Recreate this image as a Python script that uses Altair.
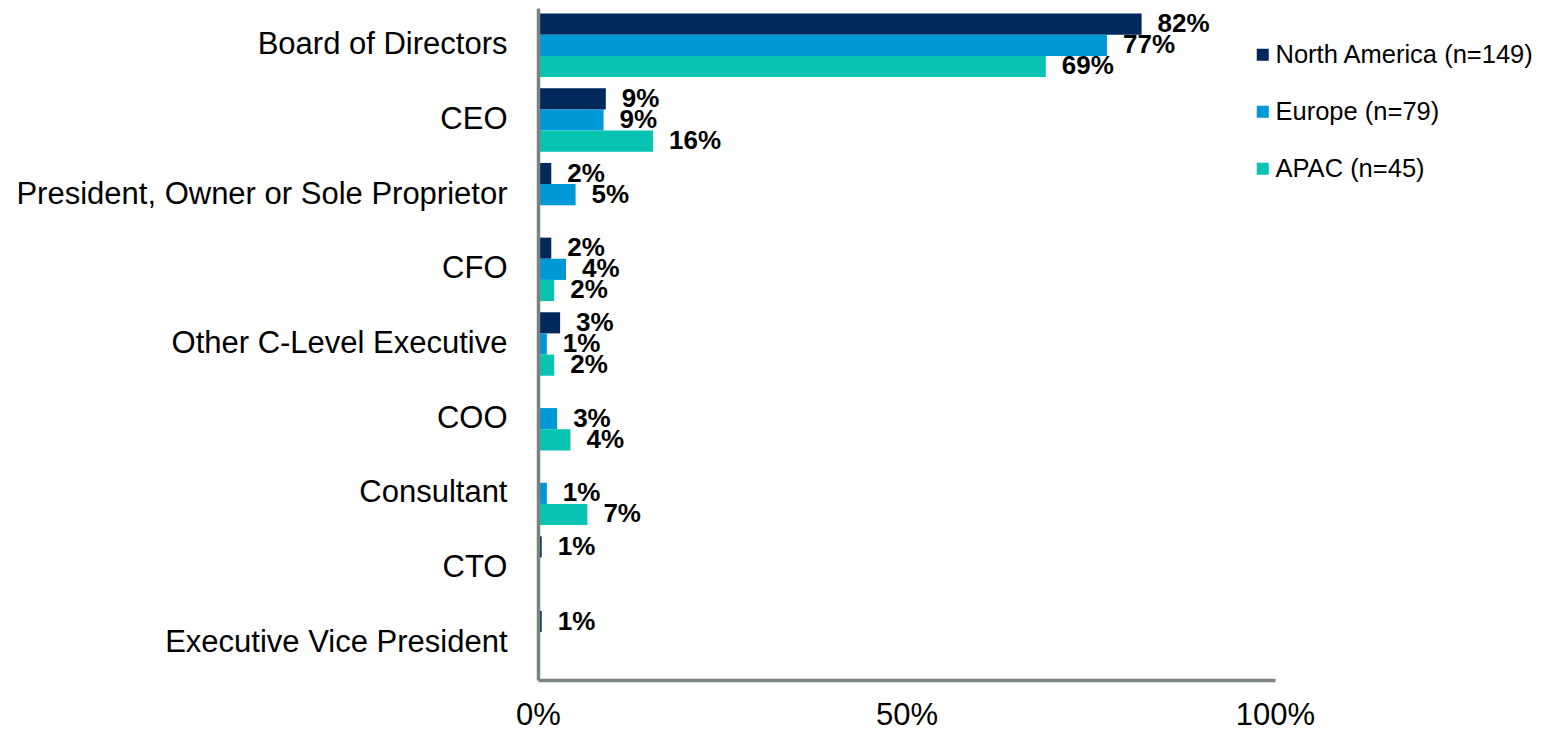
import altair as alt
import pandas as pd

categories = ["Board of Directors", "CEO", "President, Owner or Sole Proprietor", "CFO",
              "Other C-Level Executive", "COO", "Consultant", "CTO", "Executive Vice President"]
series = ["North America (n=149)", "Europe (n=79)", "APAC (n=45)"]
colors = ["#00285A", "#0098D6", "#06C4B1"]

north_america = [81.9, 9.2, 1.8, 1.8, 3.0, None, None, 0.5, 0.5]
europe = [77.2, 8.9, 5.1, 3.8, 1.2, 2.6, 1.2, None, None]
apac = [68.9, 15.6, None, 2.2, 2.2, 4.4, 6.7, None, None]

rows = []
for s, vals in zip(series, [north_america, europe, apac]):
    for c, v in zip(categories, vals):
        if v is None:
            continue
        rows.append({"cat": c, "series": s, "value": v / 100.0,
                     "label": f"{max(1, round(v))}%"})
df = pd.DataFrame(rows)

FONT = "Liberation Sans"
AXIS_COLOR = "#7A8383"

y_enc = alt.Y("cat:N", sort=categories,
              scale=alt.Scale(domain=categories, paddingInner=0.15, paddingOuter=0.075),
              axis=alt.Axis(title=None, labelFontSize=31, labelFont=FONT, labelColor="black",
                            labelPadding=31, ticks=False, domainColor=AXIS_COLOR,
                            domainWidth=3.5, labelLimit=0, zindex=1))
yoff_enc = alt.YOffset("series:N", sort=series,
                       scale=alt.Scale(domain=series, paddingInner=0, paddingOuter=0))
x_enc = alt.X("value:Q", scale=alt.Scale(domain=[0, 1]),
              axis=alt.Axis(title=None, values=[0, 0.5, 1], format=".0%", labelFontSize=31,
                            labelFont=FONT, labelColor="black", ticks=False, grid=False,
                            domainColor=AXIS_COLOR, domainWidth=3.5, labelFlush=False,
                            labelOverlap=False, labelBaseline="alphabetic", labelPadding=44,
                            zindex=1))

bars = alt.Chart(df).mark_bar().encode(
    y=y_enc, yOffset=yoff_enc, x=x_enc,
    color=alt.Color("series:N", sort=series,
                    scale=alt.Scale(domain=series, range=colors),
                    legend=alt.Legend(title=None, orient="none", legendX=712, legendY=34,
                                      symbolType="square", symbolSize=144,
                                      symbolStrokeWidth=0, labelFontSize=25.5,
                                      labelFont=FONT, labelColor="black", rowPadding=30,
                                      labelOffset=0, padding=0, labelLimit=0)),
)

labels = alt.Chart(df).mark_text(align="left", baseline="middle", dx=16, fontSize=26,
                                 fontWeight="bold", font=FONT, color="black").encode(
    y=y_enc, yOffset=yoff_enc, x=x_enc, text="label:N")

chart = (bars + labels).properties(
    width=737, height=672,
    autosize=alt.AutoSizeParams(type="none"),
    padding={"left": 530, "top": 0, "right": 259, "bottom": 48},
).configure_view(stroke=None)

chart.save("out.html", embed_options={"renderer": "svg", "actions": False})
